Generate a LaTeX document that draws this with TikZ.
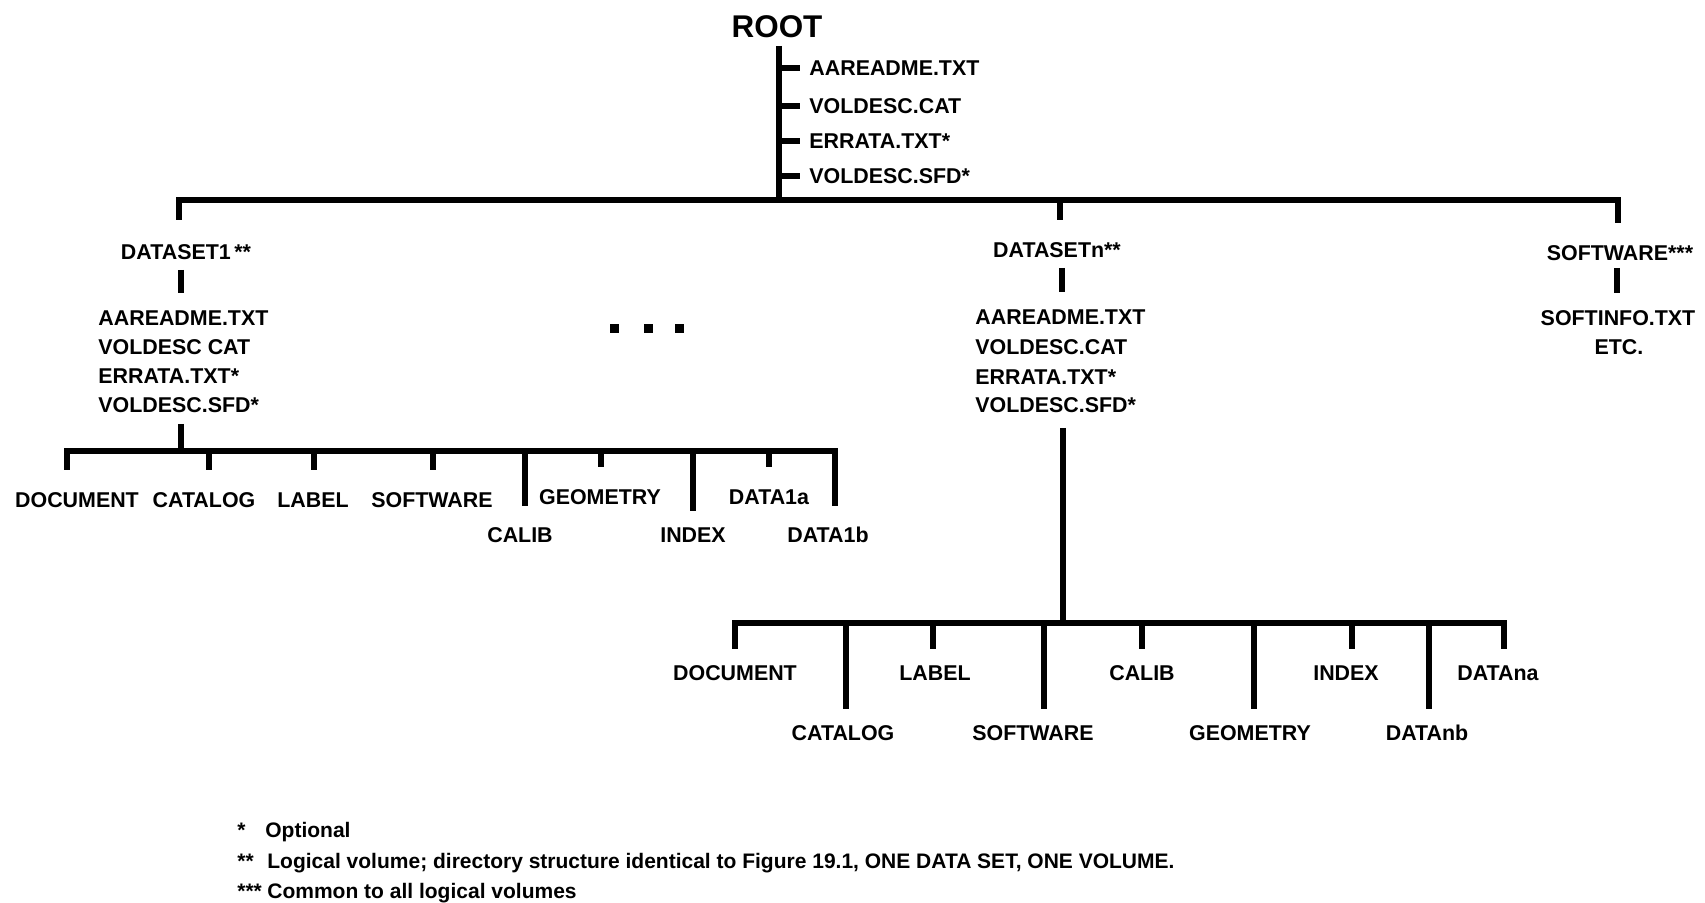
\documentclass[tikz,border=0pt]{standalone}
\usepackage{fontspec}
\setmainfont{Liberation Sans}
\begin{document}
\begin{tikzpicture}[x=0.5pt,y=-0.5pt,
  bar/.style={line width=2.6pt, line join=miter, line cap=butt},
  vbar/.style={line width=3.3pt, line cap=butt},
  lbl/.style={font=\bfseries\fontsize{10.7}{12}\selectfont, inner sep=0pt, text height=7.7pt, text depth=0pt},
  item/.style={lbl, anchor=west},
  note/.style={font=\bfseries\fontsize{10.5}{12}\selectfont, inner sep=0pt, text height=7.5pt, text depth=0pt, anchor=west},
  dot/.style={fill=black, minimum size=4.5pt, inner sep=0pt}]
\useasboundingbox (0,0) rectangle (1705,903);

% ---------- root ----------
\node[lbl, font=\bfseries\fontsize{15.7}{18}\selectfont, text height=11.3pt] (root) at (777,26) {ROOT};
\coordinate (rt) at (779,46);
\coordinate (rb) at (779,200);
\draw[vbar] (rt) -- (rb);
\node[item] (r1) at (809,68) {AAREADME.TXT};
\node[item] (r2) at (809,106) {VOLDESC.CAT};
\node[item] (r3) at (809,141) {ERRATA.TXT*};
\node[item] (r4) at (809,176) {VOLDESC.SFD*};
\foreach \n in {r1,r2,r3,r4}{
  \draw[bar] (rt |- \n.west) -- ([xshift=-4.5pt]\n.west);
}

% ---------- level 2 ----------
\node[lbl] (ds1) at (186,252) {DATASET1\,**};
\node[lbl] (dsn) at (1057,250) {DATASETn**};
\node[lbl] (sw) at (1620,253) {SOFTWARE***};
\coordinate (c1) at (179,200);
\coordinate (cn) at (1060,200);
\coordinate (cs) at (1618,200);
\draw[bar, line width=2.9pt, shorten <=12pt, shorten >=11pt] (c1 |- ds1.north) -- (c1) -- (cs) -- (cs |- sw.north);
\draw[vbar, shorten >=11pt] (cn) -- (cn |- dsn.north);

% dataset 1 list
\coordinate (a1) at (181,270);
\coordinate (a2) at (181,293);
\draw[vbar] (a1) -- (a2);
\node[item] (l1) at (98,318) {AAREADME.TXT};
\node[item] (l2) at (98,347) {VOLDESC CAT};
\node[item] (l3) at (98,376) {ERRATA.TXT*};
\node[item] (l4) at (98,405) {VOLDESC.SFD*};

% dataset n list
\coordinate (b1) at (1062,268);
\coordinate (b2) at (1062,292);
\draw[vbar] (b1) -- (b2);
\node[item] (n1) at (975,317) {AAREADME.TXT};
\node[item] (n2) at (975,347) {VOLDESC.CAT};
\node[item] (n3) at (975,377) {ERRATA.TXT*};
\node[item] (n4) at (975,405) {VOLDESC.SFD*};

% software list
\coordinate (s1) at (1617,268);
\coordinate (s2) at (1617,293);
\draw[vbar] (s1) -- (s2);
\node[lbl] (s3) at (1618,318) {SOFTINFO.TXT};
\node[lbl] (s4) at (1619,347) {ETC.};

% ellipsis dots
\node[dot] (e1) at (614,329) {};
\node[dot] (e2) at (648,329) {};
\node[dot] (e3) at (679,329) {};

% ---------- level 3 (dataset 1) ----------
\coordinate (u1) at (181,424);
\coordinate (u2) at (181,451);
\draw[vbar] (u1) -- (u2);
\node[lbl] (lDOC) at (77,500) {DOCUMENT};
\node[lbl] (lCAT) at (204,500) {CATALOG};
\node[lbl] (lLAB) at (313,500) {LABEL};
\node[lbl] (lSOF) at (432,500) {SOFTWARE};
\node[lbl] (lCAL) at (520,535) {CALIB};
\node[lbl] (lGEO) at (600,497) {GEOMETRY};
\node[lbl] (lIND) at (693,535) {INDEX};
\node[lbl] (lDA) at (769,497) {DATA1a};
\node[lbl] (lDB) at (828,535) {DATA1b};
\coordinate (p1) at (67,451);
\coordinate (p2) at (209,451);
\coordinate (p3) at (314,451);
\coordinate (p4) at (433,451);
\coordinate (p5) at (525,451);
\coordinate (p6) at (601,451);
\coordinate (p7) at (693,451);
\coordinate (p8) at (769,451);
\coordinate (p9) at (835,451);
\draw[bar, line width=2.9pt, shorten <=11pt, shorten >=10.5pt] (p1 |- lDOC.north) -- (p1) -- (p9) -- (p9 |- lDB.north);
\draw[vbar, shorten >=11pt] (p2) -- (p2 |- lCAT.north);
\draw[vbar, shorten >=11pt] (p3) -- (p3 |- lLAB.north);
\draw[vbar, shorten >=11pt] (p4) -- (p4 |- lSOF.north);
\draw[vbar, shorten >=10.5pt] (p5) -- (p5 |- lCAL.north);
\draw[vbar, shorten >=11pt] (p6) -- (p6 |- lGEO.north);
\draw[vbar, shorten >=8pt] (p7) -- (p7 |- lIND.north);
\draw[vbar, shorten >=11pt] (p8) -- (p8 |- lDA.north);

% ---------- level 3 (dataset n) ----------
\coordinate (v1) at (1063,428);
\coordinate (v2) at (1063,623);
\draw[vbar] (v1) -- (v2);
\node[lbl] (bDOC) at (735,673) {DOCUMENT};
\node[lbl] (bCAT) at (843,733) {CATALOG};
\node[lbl] (bLAB) at (935,673) {LABEL};
\node[lbl] (bSOF) at (1033,733) {SOFTWARE};
\node[lbl] (bCAL) at (1142,673) {CALIB};
\node[lbl] (bGEO) at (1250,733) {GEOMETRY};
\node[lbl] (bIND) at (1346,673) {INDEX};
\node[lbl] (bDNB) at (1427,733) {DATAnb};
\node[lbl] (bDNA) at (1498,673) {DATAna};
\coordinate (q1) at (735,623);
\coordinate (q2) at (846,623);
\coordinate (q3) at (933,623);
\coordinate (q4) at (1044,623);
\coordinate (q5) at (1142,623);
\coordinate (q6) at (1254,623);
\coordinate (q7) at (1352,623);
\coordinate (q8) at (1429,623);
\coordinate (q9) at (1504,623);
\draw[bar, line width=2.9pt, shorten <=8pt, shorten >=8pt] (q1 |- bDOC.north) -- (q1) -- (q9) -- (q9 |- bDNA.north);
\draw[vbar, shorten >=8pt] (q2) -- (q2 |- bCAT.north);
\draw[vbar, shorten >=8pt] (q3) -- (q3 |- bLAB.north);
\draw[vbar, shorten >=8pt] (q4) -- (q4 |- bSOF.north);
\draw[vbar, shorten >=8pt] (q5) -- (q5 |- bCAL.north);
\draw[vbar, shorten >=8pt] (q6) -- (q6 |- bGEO.north);
\draw[vbar, shorten >=8pt] (q7) -- (q7 |- bIND.north);
\draw[vbar, shorten >=8pt] (q8) -- (q8 |- bDNB.north);

% ---------- footnotes ----------
\node[note] (f1s) at (237,830) {*};
\node[note] (f1) at (265,830) {Optional};
\node[note] (f2s) at (237,861) {**};
\node[note] (f2) at (267,861) {Logical volume; directory structure identical to Figure 19.1, ONE DATA SET, ONE VOLUME.};
\node[note] (f3s) at (237,891) {***};
\node[note] (f3) at (267,891) {Common to all logical volumes};
\end{tikzpicture}
\end{document}
